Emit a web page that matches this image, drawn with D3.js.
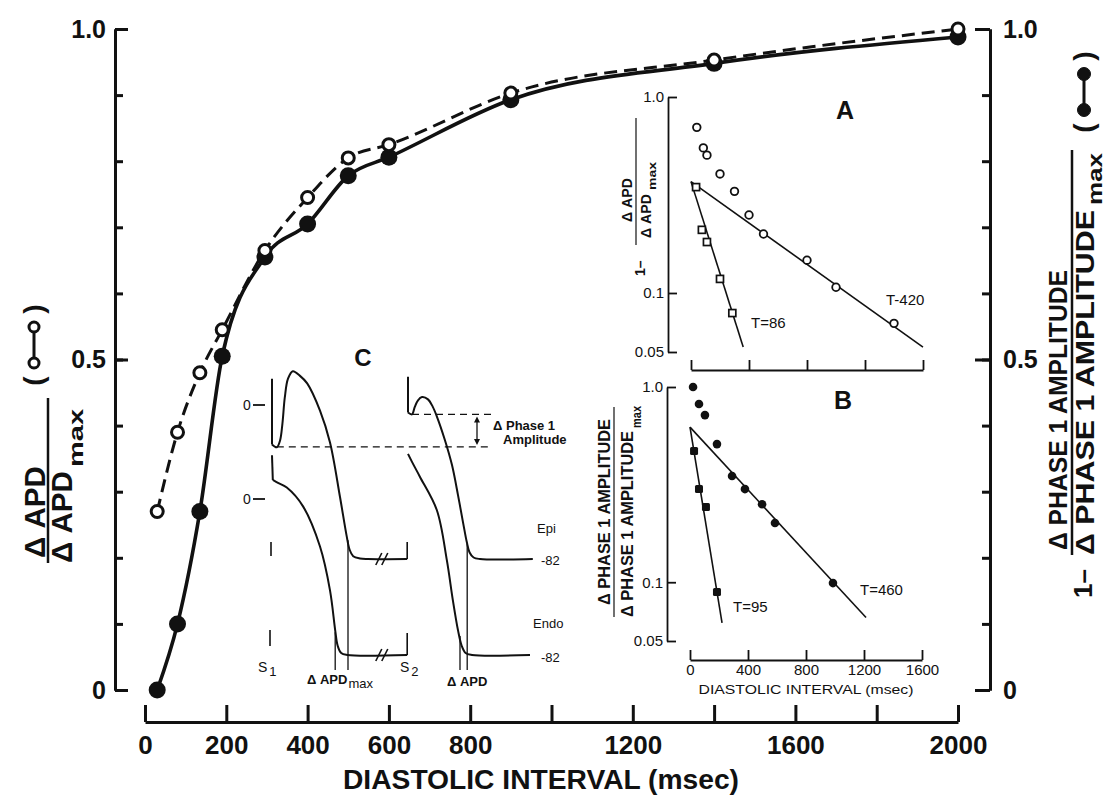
<!DOCTYPE html>
<html>
<head>
<meta charset="utf-8">
<script src="https://cdn.jsdelivr.net/npm/d3@7"></script>
<style>
  body { margin: 0; background: #fff; }
  svg { display: block; }
  text { font-family: "Liberation Sans", Arial, Helvetica, sans-serif; fill: #111; }
</style>
</head>
<body>
<script>
// ---- Main panel: normalized restitution vs diastolic interval ----
const diastolicInterval = [30, 80, 135, 190, 295, 400, 500, 600, 900, 1400, 2000];
const apdRatio          = [0.27, 0.39, 0.48, 0.545, 0.665, 0.745, 0.805, 0.825, 0.903, 0.953, 1.0];
const phase1Ratio       = [0.0, 0.10, 0.27, 0.505, 0.655, 0.705, 0.778, 0.806, 0.893, 0.948, 0.988];
const mainXTicks   = [0, 200, 400, 600, 800, 1000, 1200, 1400, 1600, 1800, 2000];
const mainXLabeled = [0, 200, 400, 600, 800, 1200, 1600, 2000];
const mainYTicks   = [0, 0.1, 0.2, 0.3, 0.4, 0.5, 0.6, 0.7, 0.8, 0.9, 1.0];
const mainYLabeled = [0, 0.5, 1.0];

// ---- Inset A: 1 - dAPD/dAPDmax (semi-log) ----
const insetADI      = [40, 85, 110, 200, 300, 400, 500, 800, 1000, 1400];
const insetAValues  = [0.70, 0.55, 0.505, 0.405, 0.33, 0.25, 0.20, 0.147, 0.107, 0.07];
const insetAFastDI  = [35, 75, 110, 200, 285];
const insetAFast    = [0.347, 0.21, 0.182, 0.118, 0.079];
const fitASlowDI = [0, 1600], fitASlow = [0.37, 0.053];
const fitAFastDI = [0, 360],  fitAFast = [0.37, 0.053];

// ---- Inset B: dPhase1/dPhase1max (semi-log) ----
const insetBDI      = [21, 62, 103, 186, 290, 379, 497, 586, 986];
const insetBValues  = [1.0, 0.818, 0.718, 0.51, 0.35, 0.30, 0.251, 0.201, 0.099];
const insetBFastDI  = [28, 62, 110, 186];
const insetBFast    = [0.47, 0.30, 0.243, 0.089];
const fitBSlowDI = [0, 1214], fitBSlow = [0.623, 0.066];
const fitBFastDI = [0, 221],  fitBFast = [0.623, 0.062];

const insetXTicks = [0, 400, 800, 1200, 1600];
const insetYTicks = [1.0, 0.1, 0.05];

// ---- Inset C: action potential traces [time (ms), potential (mV)] ----
const epiBeat1 = [[0,-21],[12,-22.5],[20,-19],[26,-10],[32,4],[40,14],[52,18],[70,15.5],[88,11.5],[120,-3],[145,-20],[170,-49],[186,-69],[194,-77],[203,-80.5],[220,-81.7],[240,-82],[338,-82]];
const epiBeat2 = [[340,-4],[350,-5],[357,-1],[365,2.5],[375,4.2],[390,3],[402,-1],[412,-6],[432,-18.5],[450,-32],[465,-48],[478,-63],[487,-73],[494,-78.5],[504,-81.2],[520,-82],[652,-82]];
const endoBeat1 = [[2,10],[15,8.5],[37,6],[78,-4],[120,-25],[145,-48],[158,-69],[164,-77],[173,-81],[188,-82],[338,-82]];
const endoBeat2 = [[340,23.7],[350,19.5],[370,11.6],[412,-5.8],[437,-32],[452,-53],[465,-69],[474,-77],[484,-81],[500,-82],[645,-82]];
const stimArtifacts = { epi1: [[0,14],[0,-21]], epi2: [[340,15],[340,-4]], endo1: [[0,23],[2,10]] };
const restPotential = -82;
const phase1Minima = [-22.3, -5];     // notch level after S1 and after S2
const apdMaxMarks = [158, 190];       // endo / epi repolarization after S1
const apdMarks    = [470, 488];       // endo / epi repolarization after S2
const breakTime = 277, traceEnd = 338, stimTime = -2.5;

const W = 1114, H = 799, ink = "#111";
const svg = d3.select("body").append("svg").attr("width", W).attr("height", H);

function styleAxis(g, sw, fs, fw) {
  g.selectAll("path.domain").attr("stroke", ink).attr("stroke-width", sw);
  g.selectAll(".tick line").attr("stroke", ink).attr("stroke-width", sw);
  g.attr("font-family", null).attr("font-size", null);
  g.selectAll("text").attr("font-size", fs).attr("font-weight", fw).attr("fill", ink);
}
const fmtMain = d => d === 0 ? "0" : d3.format(".1f")(d);

// ================= Main panel =================
const x = d3.scaleLinear().domain([0, 2000]).range([145, 958]);
const y = d3.scaleLinear().domain([0, 1]).range([690, 29]);

// left axis
svg.append("g").attr("transform", "translate(115,0)")
  .call(d3.axisLeft(y).tickValues(mainYTicks).tickSize(-8).tickSizeOuter(0).tickFormat(""))
  .call(g => styleAxis(g, 3, 0, "bold"));
svg.append("g").attr("transform", "translate(115,0)")
  .call(d3.axisLeft(y).tickValues(mainYLabeled).tickSize(-13).tickSizeOuter(0).tickPadding(9).tickFormat(fmtMain))
  .call(g => styleAxis(g, 3, 25, "bold"));

// right axis
svg.append("g").attr("transform", "translate(990,0)")
  .call(d3.axisRight(y).tickValues(mainYTicks).tickSize(-8).tickSizeOuter(0).tickFormat(""))
  .call(g => styleAxis(g, 3, 0, "bold"));
svg.append("g").attr("transform", "translate(990,0)")
  .call(d3.axisRight(y).tickValues(mainYLabeled).tickSize(-15).tickSizeOuter(0).tickPadding(13).tickFormat(fmtMain))
  .call(g => styleAxis(g, 3, 25, "bold"));

// bottom axis
svg.append("g").attr("transform", "translate(0,722)")
  .call(d3.axisBottom(x).tickValues(mainXTicks).tickSize(-17).tickSizeOuter(0).tickPadding(14)
        .tickFormat(d => mainXLabeled.includes(d) ? d : ""))
  .call(g => styleAxis(g, 3, 26, "bold"));

svg.append("text").attr("x", 541).attr("y", 789).attr("text-anchor", "middle")
  .attr("font-size", 27).attr("font-weight", "bold")
  .attr("textLength", 396).attr("lengthAdjust", "spacingAndGlyphs")
  .text("DIASTOLIC INTERVAL (msec)");

// curves
const apdPts = diastolicInterval.map((d, i) => [d, apdRatio[i]]);
const ph1Pts = diastolicInterval.map((d, i) => [d, phase1Ratio[i]]);
const mainLine = d3.line().x(d => x(d[0])).y(d => y(d[1])).curve(d3.curveMonotoneX);
svg.append("path").attr("d", mainLine(apdPts)).attr("fill", "none").attr("stroke", ink)
  .attr("stroke-width", 3).attr("stroke-dasharray", "13,7");
svg.append("path").attr("d", mainLine(ph1Pts)).attr("fill", "none").attr("stroke", ink)
  .attr("stroke-width", 3.6);
svg.append("g").selectAll("circle").data(ph1Pts).join("circle")
  .attr("cx", d => x(d[0])).attr("cy", d => y(d[1])).attr("r", 8.5).attr("fill", ink);
svg.append("g").selectAll("circle").data(apdPts).join("circle")
  .attr("cx", d => x(d[0])).attr("cy", d => y(d[1])).attr("r", 6).attr("fill", "#fff")
  .attr("stroke", ink).attr("stroke-width", 3);

// rotated text helper
function vtext(px, py, str, opts = {}) {
  const t = svg.append("text").attr("transform", `translate(${px},${py}) rotate(-90)`)
    .attr("text-anchor", opts.anchor || "start").attr("font-size", opts.size || 28)
    .attr("font-weight", opts.weight || "bold");
  if (opts.len) t.attr("textLength", opts.len).attr("lengthAdjust", "spacingAndGlyphs");
  t.text(str);
  return t;
}

// left axis title:  ΔAPD / ΔAPDmax  (o-o)
vtext(45, 512, "\u0394 APD", { anchor: "middle", size: 29, len: 92 });
svg.append("line").attr("x1", 48).attr("x2", 48).attr("y1", 563).attr("y2", 398)
  .attr("stroke", ink).attr("stroke-width", 2.5);
vtext(72, 563, "\u0394 APD", { size: 29, len: 92 });
vtext(83, 467, "max", { size: 21, len: 58 });

function legendGlyph(cx, cy, filled) {
  const g = svg.append("g").attr("transform", `translate(${cx},${cy}) rotate(-90)`);
  g.append("text").attr("x", -36).attr("y", 9).attr("text-anchor", "middle")
    .attr("font-size", 28).attr("font-weight", "bold").text("(");
  g.append("text").attr("x", 36).attr("y", 9).attr("text-anchor", "middle")
    .attr("font-size", 28).attr("font-weight", "bold").text(")");
  g.append("line").attr("x1", -18).attr("x2", 18).attr("y1", 0).attr("y2", 0)
    .attr("stroke", ink).attr("stroke-width", 3);
  [-18, 18].forEach(v => g.append("circle").attr("cx", v).attr("cy", 0)
    .attr("r", filled ? 6.5 : 5).attr("fill", filled ? ink : "#fff")
    .attr("stroke", ink).attr("stroke-width", filled ? 1 : 3));
}
legendGlyph(34, 345, false);

// right axis title: 1 - ΔPHASE 1 AMPLITUDE / ΔPHASE 1 AMPLITUDEmax  (●-●)
vtext(1092, 598, "1\u2013", { size: 26 });
vtext(1067, 410, "\u0394 PHASE 1 AMPLITUDE", { anchor: "middle", size: 26, len: 280 });
svg.append("line").attr("x1", 1072).attr("x2", 1072).attr("y1", 555).attr("y2", 150)
  .attr("stroke", ink).attr("stroke-width", 2.5);
vtext(1094, 555, "\u0394 PHASE 1 AMPLITUDE", { size: 26, len: 345 });
vtext(1102, 205, "max", { size: 20, len: 52 });
legendGlyph(1084, 92, true);

// ================= Inset A =================
const ax = d3.scaleLinear().domain([0, 1600]).range([691, 923]);
const ay = d3.scaleLog().domain([0.05, 1]).range([352, 97]);
const fmtInset = d => d === 0.05 ? "0.05" : d3.format(".1f")(d);

svg.append("g").attr("transform", "translate(668,0)")
  .call(d3.axisLeft(ay).tickValues(insetYTicks).tickSize(-9).tickSizeOuter(0).tickPadding(4).tickFormat(fmtInset))
  .call(g => styleAxis(g, 1.8, 15, "normal"));
svg.append("g").attr("transform", "translate(0,370)")
  .call(d3.axisBottom(ax).tickValues(insetXTicks).tickSize(-10).tickSizeOuter(0).tickFormat(""))
  .call(g => styleAxis(g, 1.8, 0, "normal"));

const lineA = d3.line().x(d => ax(d[0])).y(d => ay(d[1]));
[[fitASlowDI, fitASlow], [fitAFastDI, fitAFast]].forEach(([xs, vs]) =>
  svg.append("path").attr("d", lineA(xs.map((d, i) => [d, vs[i]])))
    .attr("fill", "none").attr("stroke", ink).attr("stroke-width", 1.6));
svg.append("g").selectAll("circle").data(insetADI.map((d, i) => [d, insetAValues[i]])).join("circle")
  .attr("cx", d => ax(d[0])).attr("cy", d => ay(d[1])).attr("r", 3.8)
  .attr("fill", "#fff").attr("stroke", ink).attr("stroke-width", 1.8);
svg.append("g").selectAll("rect").data(insetAFastDI.map((d, i) => [d, insetAFast[i]])).join("rect")
  .attr("x", d => ax(d[0]) - 3.5).attr("y", d => ay(d[1]) - 3.5).attr("width", 7).attr("height", 7)
  .attr("fill", "#fff").attr("stroke", ink).attr("stroke-width", 1.7);
svg.append("text").attr("x", 845).attr("y", 119).attr("text-anchor", "middle")
  .attr("font-size", 25).attr("font-weight", "bold").text("A");
svg.append("text").attr("x", 886).attr("y", 305).attr("font-size", 15).text("T-420");
svg.append("text").attr("x", 751).attr("y", 328).attr("font-size", 15).text("T=86");

// inset A y title: 1 - ΔAPD / ΔAPDmax
vtext(645, 276, "1\u2013", { size: 14 });
vtext(632, 200, "\u0394 APD", { anchor: "middle", size: 14, len: 44 });
svg.append("line").attr("x1", 636).attr("x2", 636).attr("y1", 245).attr("y2", 118)
  .attr("stroke", ink).attr("stroke-width", 1.2);
vtext(651, 238, "\u0394 APD", { size: 14, len: 44 });
vtext(656, 190, "max", { size: 11, len: 28 });

// ================= Inset B =================
const bx = d3.scaleLinear().domain([0, 1600]).range([690, 922]);
const by = d3.scaleLog().domain([0.05, 1]).range([641, 387]);

svg.append("g").attr("transform", "translate(667,0)")
  .call(d3.axisLeft(by).tickValues(insetYTicks).tickSize(-9).tickSizeOuter(0).tickPadding(4).tickFormat(fmtInset))
  .call(g => styleAxis(g, 1.8, 15, "normal"));
svg.append("g").attr("transform", "translate(0,660)")
  .call(d3.axisBottom(bx).tickValues(insetXTicks).tickSize(-10).tickSizeOuter(0).tickPadding(4).tickFormat(d => String(d)))
  .call(g => styleAxis(g, 1.8, 15, "normal"));
svg.append("text").attr("x", 806).attr("y", 694).attr("text-anchor", "middle")
  .attr("font-size", 13.5).attr("textLength", 215).attr("lengthAdjust", "spacingAndGlyphs")
  .text("DIASTOLIC INTERVAL (msec)");

const lineB = d3.line().x(d => bx(d[0])).y(d => by(d[1]));
[[fitBSlowDI, fitBSlow], [fitBFastDI, fitBFast]].forEach(([xs, vs]) =>
  svg.append("path").attr("d", lineB(xs.map((d, i) => [d, vs[i]])))
    .attr("fill", "none").attr("stroke", ink).attr("stroke-width", 1.6));
svg.append("g").selectAll("circle").data(insetBDI.map((d, i) => [d, insetBValues[i]])).join("circle")
  .attr("cx", d => bx(d[0])).attr("cy", d => by(d[1])).attr("r", 4.3).attr("fill", ink);
svg.append("g").selectAll("rect").data(insetBFastDI.map((d, i) => [d, insetBFast[i]])).join("rect")
  .attr("x", d => bx(d[0]) - 4).attr("y", d => by(d[1]) - 4).attr("width", 8).attr("height", 8)
  .attr("rx", 1.5).attr("fill", ink);
svg.append("text").attr("x", 843).attr("y", 409).attr("text-anchor", "middle")
  .attr("font-size", 25).attr("font-weight", "bold").text("B");
svg.append("text").attr("x", 860).attr("y", 595).attr("font-size", 15).text("T=460");
svg.append("text").attr("x", 733).attr("y", 612).attr("font-size", 15).text("T=95");

// inset B y title
vtext(610, 512, "\u0394 PHASE 1 AMPLITUDE", { anchor: "middle", size: 17, len: 186 });
svg.append("line").attr("x1", 614).attr("x2", 614).attr("y1", 617).attr("y2", 407)
  .attr("stroke", ink).attr("stroke-width", 1.2);
vtext(633, 617, "\u0394 PHASE 1 AMPLITUDE", { size: 17, len: 186 });
vtext(641, 428, "max", { size: 13, len: 22 });

// ================= Inset C =================
const tC = d3.scaleLinear().domain([0, 100]).range([272, 312]);
const vEpi = d3.scaleLinear().domain([restPotential, 0]).range([559, 405]);
const vEndo = d3.scaleLinear().domain([restPotential, 0]).range([655, 499]);
const epiLine = d3.line().x(d => tC(d[0])).y(d => vEpi(d[1])).curve(d3.curveCatmullRom.alpha(0.5));
const endoLine = d3.line().x(d => tC(d[0])).y(d => vEndo(d[1])).curve(d3.curveCatmullRom.alpha(0.5));
const trace = (d) => svg.append("path").attr("d", d).attr("fill", "none").attr("stroke", ink)
  .attr("stroke-width", 2).attr("stroke-linejoin", "round");

trace(epiLine(epiBeat1)); trace(epiLine(epiBeat2));
trace(endoLine(endoBeat1)); trace(endoLine(endoBeat2));
trace(epiLine(stimArtifacts.epi1)); trace(epiLine(stimArtifacts.epi2));
trace(endoLine(stimArtifacts.endo1));

// break marks on the resting lines
[vEpi(restPotential), vEndo(restPotential)].forEach(yy => {
  [-3, 3].forEach(off => svg.append("line")
    .attr("x1", tC(breakTime) + off - 4).attr("y1", yy + 6)
    .attr("x2", tC(breakTime) + off + 2).attr("y2", yy - 6)
    .attr("stroke", ink).attr("stroke-width", 1.6));
});
// end-of-trace ticks and S1 stimulus marks
svg.append("line").attr("x1", tC(traceEnd)).attr("x2", tC(traceEnd))
  .attr("y1", vEpi(restPotential)).attr("y2", vEpi(restPotential) - 17).attr("stroke", ink).attr("stroke-width", 1.6);
svg.append("line").attr("x1", tC(traceEnd)).attr("x2", tC(traceEnd))
  .attr("y1", vEndo(restPotential)).attr("y2", vEndo(restPotential) - 22).attr("stroke", ink).attr("stroke-width", 1.6);
svg.append("line").attr("x1", tC(stimTime)).attr("x2", tC(stimTime))
  .attr("y1", vEpi(restPotential) - 17).attr("y2", vEpi(restPotential) - 3).attr("stroke", ink).attr("stroke-width", 1.6);
svg.append("line").attr("x1", tC(stimTime) - 1).attr("x2", tC(stimTime) - 1)
  .attr("y1", vEndo(restPotential) - 25).attr("y2", vEndo(restPotential) - 9).attr("stroke", ink).attr("stroke-width", 1.6);

// ΔAPD marker lines
const markY = 670;
svg.append("line").attr("x1", tC(apdMaxMarks[0])).attr("x2", tC(apdMaxMarks[0]))
  .attr("y1", vEndo(-70)).attr("y2", markY).attr("stroke", ink).attr("stroke-width", 1.3);
svg.append("line").attr("x1", tC(apdMaxMarks[1])).attr("x2", tC(apdMaxMarks[1]))
  .attr("y1", vEpi(-72)).attr("y2", markY).attr("stroke", ink).attr("stroke-width", 1.3);
svg.append("line").attr("x1", tC(apdMarks[0])).attr("x2", tC(apdMarks[0]))
  .attr("y1", vEndo(-72)).attr("y2", markY).attr("stroke", ink).attr("stroke-width", 1.3);
svg.append("line").attr("x1", tC(apdMarks[1])).attr("x2", tC(apdMarks[1]))
  .attr("y1", vEpi(-74)).attr("y2", markY).attr("stroke", ink).attr("stroke-width", 1.3);

// phase 1 notch levels
svg.append("line").attr("x1", tC(12)).attr("x2", 492).attr("y1", vEpi(phase1Minima[0])).attr("y2", vEpi(phase1Minima[0]))
  .attr("stroke", ink).attr("stroke-width", 1.2).attr("stroke-dasharray", "7,5");
svg.append("line").attr("x1", tC(350)).attr("x2", 492).attr("y1", vEpi(phase1Minima[1])).attr("y2", vEpi(phase1Minima[1]))
  .attr("stroke", ink).attr("stroke-width", 1.2).attr("stroke-dasharray", "7,5");
// double arrow
const arrX = 477, aTop = vEpi(phase1Minima[1]) + 2, aBot = vEpi(phase1Minima[0]) - 2;
svg.append("line").attr("x1", arrX).attr("x2", arrX).attr("y1", aTop + 4).attr("y2", aBot - 4)
  .attr("stroke", ink).attr("stroke-width", 1.3);
svg.append("path").attr("d", `M${arrX},${aTop} l-3,6 l6,0 z M${arrX},${aBot} l-3,-6 l6,0 z`).attr("fill", ink);

// zero markers
[vEpi(0), vEndo(0)].forEach(yy => {
  svg.append("text").attr("x", 247).attr("y", yy + 5).attr("text-anchor", "middle").attr("font-size", 14).text("0");
  svg.append("line").attr("x1", 253).attr("x2", 265).attr("y1", yy).attr("y2", yy).attr("stroke", ink).attr("stroke-width", 1.8);
});

svg.append("text").attr("x", 363).attr("y", 366).attr("text-anchor", "middle")
  .attr("font-size", 24).attr("font-weight", "bold").text("C");
svg.append("text").attr("x", 493).attr("y", 430).attr("font-size", 13).attr("font-weight", "bold")
  .text("\u0394 Phase  1");
svg.append("text").attr("x", 503).attr("y", 444).attr("font-size", 13).attr("font-weight", "bold")
  .text("Amplitude");
svg.append("text").attr("x", 537).attr("y", 533).attr("font-size", 13).text("Epi");
svg.append("text").attr("x", 541).attr("y", 565).attr("font-size", 13).text("-82");
svg.append("text").attr("x", 533).attr("y", 628).attr("font-size", 13).text("Endo");
svg.append("text").attr("x", 541).attr("y", 662).attr("font-size", 13).text("-82");

const sub = (px, py, main, s, size) => {
  const t = svg.append("text").attr("x", px).attr("y", py).attr("font-size", size);
  t.append("tspan").text(main);
  t.append("tspan").attr("dy", 4).attr("font-size", size - 1).attr("dx", 2).text(s);
};
sub(258, 672, "S", "1", 14);
sub(400, 672, "S", "2", 14);
const apdMaxLbl = svg.append("text").attr("x", 307).attr("y", 684).attr("font-size", 13).attr("font-weight", "bold");
apdMaxLbl.append("tspan").text("\u0394 APD");
apdMaxLbl.append("tspan").attr("dy", 4).attr("font-weight", "normal").attr("dx", 1).text("max");
svg.append("text").attr("x", 447).attr("y", 686).attr("font-size", 13).attr("font-weight", "bold").text("\u0394 APD");
</script>
</body>
</html>
